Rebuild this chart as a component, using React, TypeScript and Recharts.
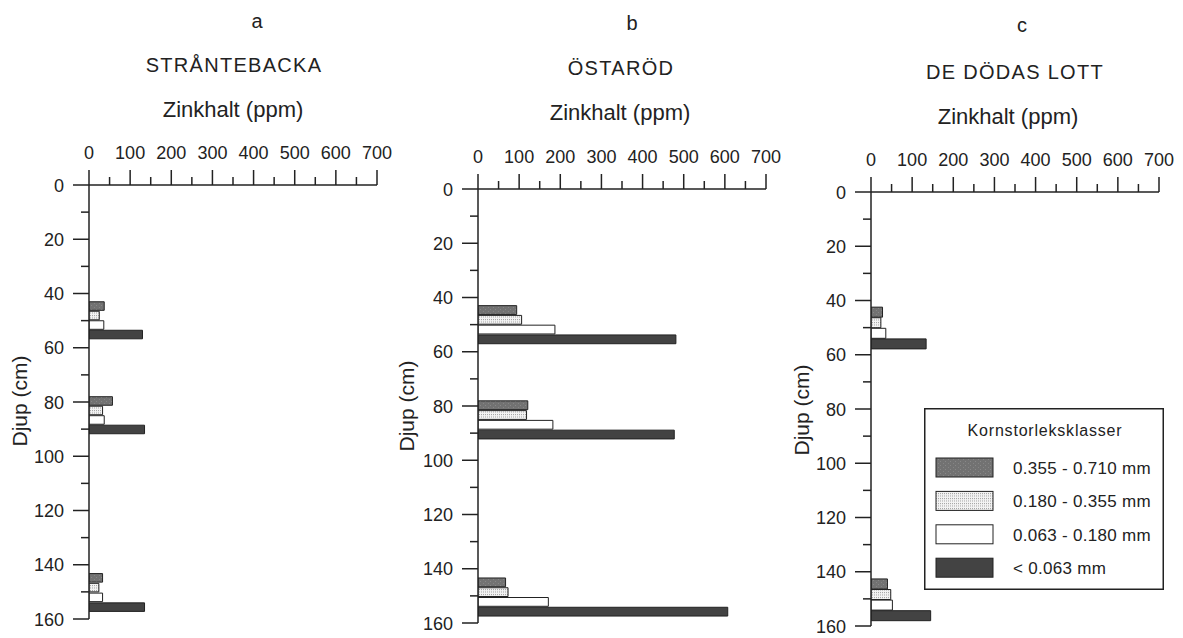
import React from "react";
import { BarChart, Bar, XAxis, YAxis, Cell, Legend } from "recharts";

// kornstorleksklasser, same order inside every group of four bars
const classes = ["0.355 - 0.710 mm", "0.180 - 0.355 mm", "0.063 - 0.180 mm", "< 0.063 mm"];

// a: Strantebacka
const depthA = [44.8, 48.3, 51.8, 55.3, 79.8, 83.3, 86.8, 90.3, 145.0, 148.6, 152.2, 155.8];
const zincA = [37, 25, 36, 130, 57, 33, 37, 135, 33, 24, 33, 135];
const classA = [0, 1, 2, 3, 0, 1, 2, 3, 0, 1, 2, 3];

// b: Östaröd
const depthB = [44.8, 48.4, 52.0, 55.6, 79.9, 83.5, 87.1, 90.7, 145.2, 148.8, 152.4, 156.0];
const zincB = [94, 106, 187, 481, 121, 118, 182, 477, 67, 73, 171, 607];
const classB = [0, 1, 2, 3, 0, 1, 2, 3, 0, 1, 2, 3];

// c: De dödas lott
const depthC = [44.4, 48.3, 52.2, 56.1, 144.6, 148.5, 152.4, 156.3];
const zincC = [28, 24, 36, 134, 40, 48, 52, 145];
const classC = [0, 1, 2, 3, 0, 1, 2, 3];

const xTicks = [0, 50, 100, 150, 200, 250, 300, 350, 400, 450, 500, 550, 600, 650, 700];
const xLabels = [0, 100, 200, 300, 400, 500, 600, 700];
const yTicks = [0, 10, 20, 30, 40, 50, 60, 70, 80, 90, 100, 110, 120, 130, 140, 150, 160];
const yLabels = [0, 20, 40, 60, 80, 100, 120, 140, 160];

const ink = "#222";
const font = "'Liberation Sans', Arial, Helvetica, sans-serif";

const rows = (depth: number[], zinc: number[], cls: number[]) =>
  depth.map((d, i) => ({ depth: d, zn: zinc[i], cls: cls[i] }));

const fillFor = (cls: number, id: string) =>
  cls === 0 ? `url(#speck-${id})` : cls === 1 ? `url(#dots-${id})` : cls === 2 ? "#fff" : "#434343";

const Patterns = ({ id }: { id: string }) => (
  <defs>
    <pattern id={`speck-${id}`} width={5} height={4} patternUnits="userSpaceOnUse">
      <rect width={5} height={4} fill="#727272" />
      <rect x={1} y={1} width={1} height={1} fill="#888" />
      <rect x={4} y={3} width={1} height={1} fill="#858585" />
    </pattern>
    <pattern id={`dots-${id}`} width={2} height={2.5} patternUnits="userSpaceOnUse">
      <rect width={2} height={2.5} fill="#f3f3f3" />
      <rect x={0} y={0} width={1} height={1} fill="#a0a0a0" />
    </pattern>
  </defs>
);

const XTick = (props: any) => {
  const { x, y, payload } = props;
  const major = xLabels.includes(payload.value);
  return (
    <g>
      <line x1={x} x2={x} y1={y} y2={y - (major ? 15 : 8)} stroke={ink} strokeWidth={1.5} />
      {major && (
        <text x={x} y={y - 26} textAnchor="middle" fontSize={18} fontFamily={font} fill={ink}>
          {payload.value}
        </text>
      )}
    </g>
  );
};

const YTick = (props: any) => {
  const { x, y, payload } = props;
  const major = yLabels.includes(payload.value);
  return (
    <g>
      <line x1={x - (major ? 16 : 8)} x2={x} y1={y} y2={y} stroke={ink} strokeWidth={1.5} />
      {major && (
        <text x={x - 25} y={y + 6.5} textAnchor="end" fontSize={18} fontFamily={font} fill={ink}>
          {payload.value}
        </text>
      )}
    </g>
  );
};

const LegendBox = () => (
  <svg width={240} height={182} style={{ display: "block" }}>
    <Patterns id="legend" />
    <rect x={0.75} y={0.75} width={238.5} height={180.5} fill="#fff" stroke={ink} strokeWidth={1.5} />
    <text x={121} y={28.4} textAnchor="middle" fontSize={16} letterSpacing={0.8} fontFamily={font} fill={ink}>
      Kornstorleksklasser
    </text>
    {classes.map((c, i) => (
      <g key={c}>
        <rect x={12} y={50 + i * 33.4} width={57} height={19} fill={fillFor(i, "legend")} stroke={ink} strokeWidth={1} />
        <text x={89} y={66 + i * 33.4} fontSize={17} letterSpacing={0.3} fontFamily={font} fill={ink}>
          {c}
        </text>
      </g>
    ))}
  </svg>
);

type PanelProps = { id: string; left: number; top: number; data: any[]; legend?: boolean };

const Panel = ({ id, left, top, data, legend }: PanelProps) => (
  <div style={{ position: "absolute", left, top }}>
    <BarChart
      width={400}
      height={640}
      data={data}
      layout="vertical"
      margin={{ top: 0, right: 23, bottom: 21, left: 0 }}
    >
      <Patterns id={id} />
      <XAxis
        type="number"
        orientation="top"
        height={185}
        domain={[0, 700]}
        ticks={xTicks}
        interval={0}
        tickSize={0}
        tickMargin={0}
        tickLine={false}
        tick={<XTick />}
        axisLine={{ stroke: ink, strokeWidth: 1.5 }}
        allowDataOverflow
      />
      <YAxis
        type="number"
        dataKey="depth"
        width={89}
        domain={[0, 160]}
        ticks={yTicks}
        interval={0}
        tickSize={0}
        tickMargin={0}
        tickLine={false}
        tick={<YTick />}
        axisLine={{ stroke: ink, strokeWidth: 1.5 }}
        allowDataOverflow
      />
      {legend && (
        <Legend
          layout="vertical"
          align="center"
          verticalAlign="middle"
          content={() => <LegendBox />}
          wrapperStyle={{ left: 142, top: 401, width: 240, height: 182 }}
        />
      )}
      <Bar dataKey="zn" barSize={10} stroke={ink} strokeWidth={1} isAnimationActive={false}>
        {data.map((d, i) => (
          <Cell key={i} fill={fillFor(d.cls, id)} />
        ))}
      </Bar>
    </BarChart>
  </div>
);

const Title = ({ x, y, size, spacing, children }: any) => (
  <text x={x} y={y} textAnchor="middle" fontSize={size} letterSpacing={spacing} fontFamily={font} fill={ink}>
    {children}
  </text>
);

const DepthLabel = ({ x, y }: { x: number; y: number }) => (
  <text
    transform={`translate(${x},${y}) rotate(-90)`}
    textAnchor="middle"
    fontSize={21}
    fontFamily={font}
    fill={ink}
  >
    Djup (cm)
  </text>
);

export default function App() {
  return (
    <div style={{ position: "absolute", left: 0, top: 0, width: 1183, height: 638, background: "#fff", overflow: "hidden" }}>
      <Panel id="a" left={0} top={0} data={rows(depthA, zincA, classA)} />
      <Panel id="b" left={389} top={4} data={rows(depthB, zincB, classB)} />
      <Panel id="c" left={782} top={7} data={rows(depthC, zincC, classC)} legend />
      <svg width={1183} height={638} style={{ position: "absolute", left: 0, top: 0, pointerEvents: "none" }}>
        <Title x={257} y={28} size={20}>a</Title>
        <Title x={234} y={72} size={20} spacing={1.3}>STRÅNTEBACKA</Title>
        <Title x={233} y={117} size={22}>Zinkhalt (ppm)</Title>
        <Title x={632} y={30} size={20}>b</Title>
        <Title x={621} y={75} size={20} spacing={1.3}>ÖSTARÖD</Title>
        <Title x={620} y={120} size={22}>Zinkhalt (ppm)</Title>
        <Title x={1022} y={32} size={20}>c</Title>
        <Title x={1015} y={79} size={20} spacing={1.3}>DE DÖDAS LOTT</Title>
        <Title x={1008} y={124} size={22}>Zinkhalt (ppm)</Title>
        <DepthLabel x={27} y={401} />
        <DepthLabel x={414} y={406} />
        <DepthLabel x={809} y={410} />
      </svg>
    </div>
  );
}
